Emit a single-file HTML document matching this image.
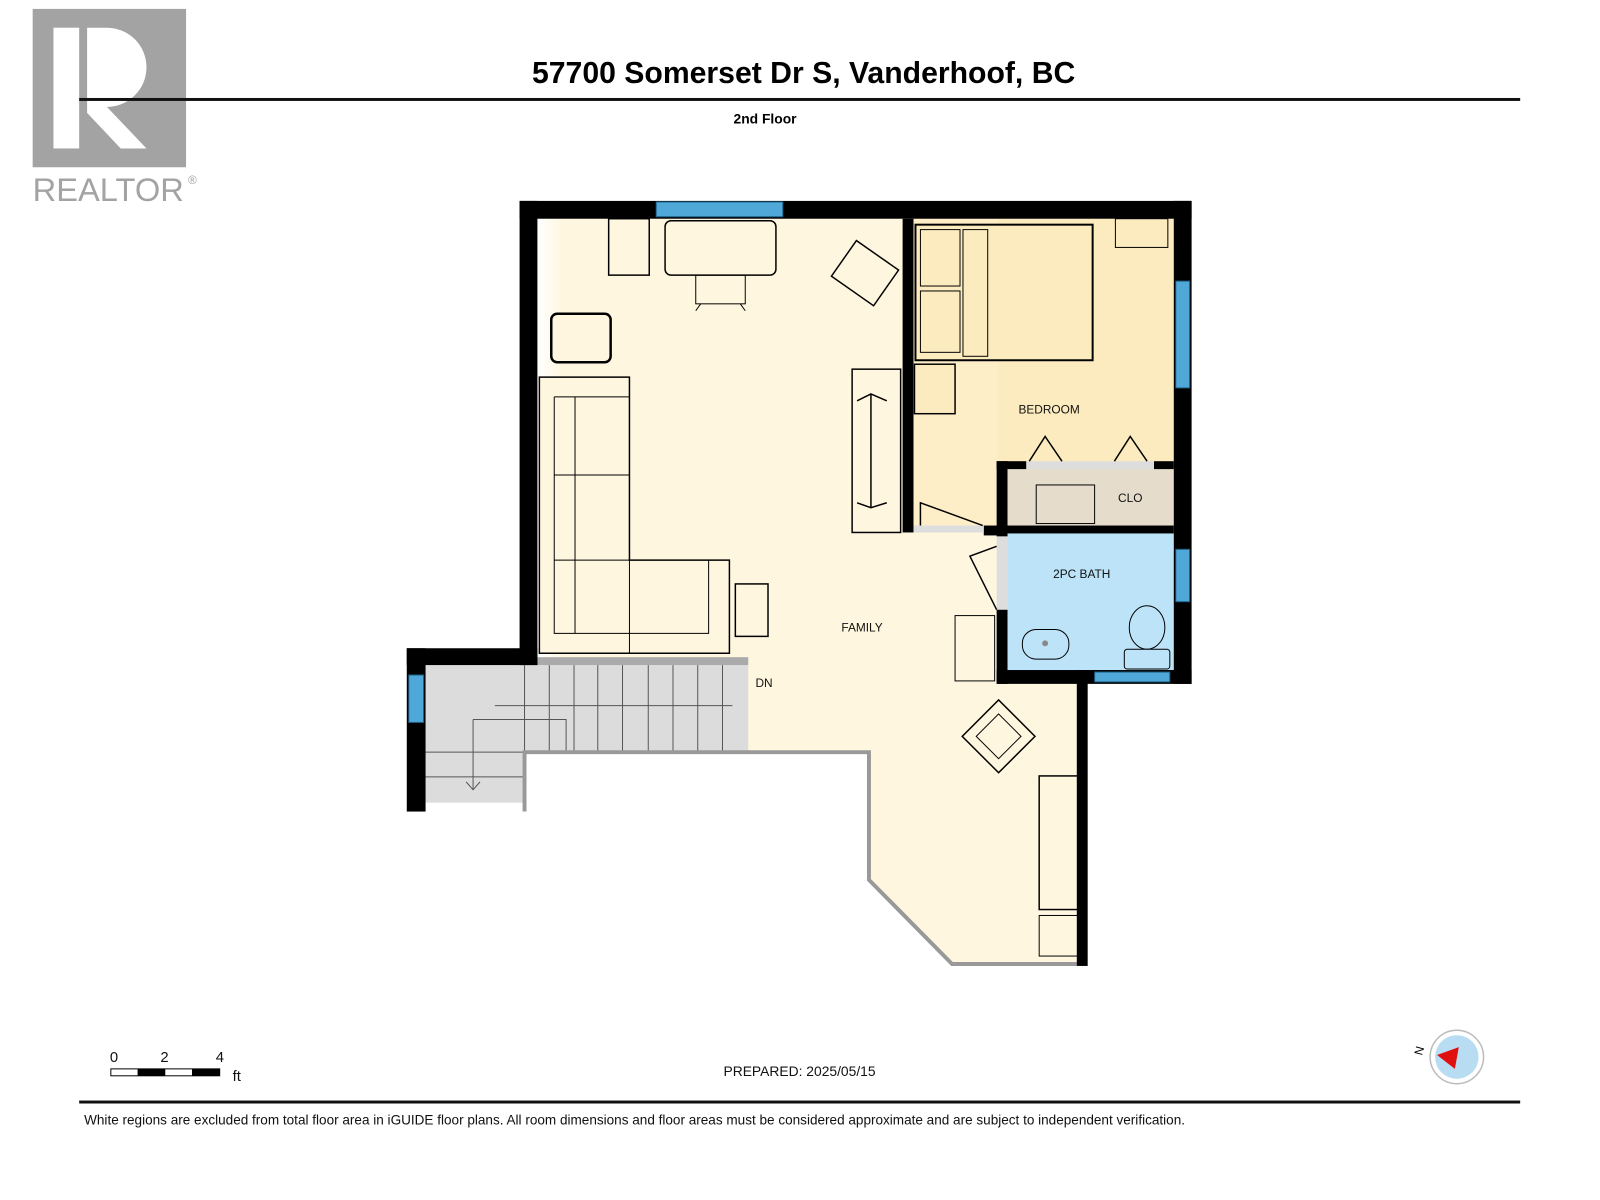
<!DOCTYPE html>
<html><head><meta charset="utf-8"><style>
html,body{margin:0;padding:0;background:#fff;}
svg{display:block;font-family:"Liberation Sans",Arial,sans-serif;}
</style></head><body>
<svg width="1600" height="1200" viewBox="0 0 1600 1200" xmlns="http://www.w3.org/2000/svg">
<defs>
<linearGradient id="lg" x1="0" x2="1"><stop offset="0" stop-color="#fff"/><stop offset="1" stop-color="#fef6df"/></linearGradient>
</defs>
<g transform="scale(0.9897)">
<!-- Realtor logo -->
<rect x="33" y="9" width="155" height="160" fill="#a3a3a3"/>
<rect x="54" y="28" width="26" height="122" fill="#fff"/>
<path d="M88 28 h20 a40 40 0 0 1 0 80 l40 42 h-26 l-34 -36 z" fill="#fff"/>
<text x="33" y="203" font-size="33" fill="#a3a3a3">REALTOR</text>
<text x="190" y="186" font-size="12" fill="#a3a3a3">®</text>
<!-- header -->
<text x="812" y="84" font-size="30.5" font-weight="bold" text-anchor="middle">57700 Somerset Dr S, Vanderhoof, BC</text>
<rect x="80" y="99" width="1456" height="3" fill="#111"/>
<text x="773" y="125" font-size="14" font-weight="bold" text-anchor="middle">2nd Floor</text>

<!-- floors -->
<path d="M543 221 H912 V538 H1007 V691 H1088 V976 H962 L878 889 V760 H530 V672 H543 Z" fill="#fef6df"/>
<rect x="543" y="221" width="26" height="451" fill="url(#lg)"/>
<rect x="923" y="221" width="263" height="317" fill="#fdebc0"/>
<rect x="923" y="221" width="85" height="317" fill="#fdeec8"/>
<rect x="1018" y="474" width="168" height="57" fill="#e6dccb"/>
<rect x="1018" y="538" width="168" height="139" fill="#bde3f8"/>
<rect x="430" y="672" width="326" height="88" fill="#dcdcdc"/>
<rect x="430" y="760" width="100" height="51" fill="#dcdcdc"/>
<rect x="543" y="664" width="213" height="8" fill="#aaa"/>
<g stroke="#555" stroke-width="1" fill="none">
<path d="M530 672V760 M555 672V760 M580 672V760 M604 672V760 M629 672V760 M655 672V760 M680 672V760 M705 672V760 M730 672V760"/>
<path d="M430 760H530 M430 785H530"/>
<path d="M500 713H740 M478 727H572V760"/>
<path d="M478 727V798 M471 790 L478 798 L485 790"/>
</g>
<path d="M530 820 V760 H878 V889 L962 974 H1088" fill="none" stroke="#999" stroke-width="4"/>
<!-- walls -->
<g fill="#000">
<rect x="525" y="203" width="679" height="18"/>
<rect x="525" y="203" width="18" height="469"/>
<rect x="411" y="655" width="132" height="17"/>
<rect x="411" y="655" width="19" height="165"/>
<rect x="912" y="221" width="11" height="317"/>
<rect x="1186" y="203" width="18" height="488"/>
<rect x="1007" y="466" width="11" height="76"/>
<rect x="1007" y="616" width="11" height="75"/>
<rect x="1007" y="466" width="30" height="8"/>
<rect x="1166" y="466" width="20" height="8"/>
<rect x="1007" y="531" width="179" height="8"/>
<rect x="994" y="531" width="24" height="10"/>
<rect x="1007" y="677" width="197" height="14"/>
<rect x="1088" y="677" width="11" height="299"/>
</g>
<g fill="#4fa8d8" stroke="#1a5a80" stroke-width="1">
<rect x="663" y="204" width="128" height="15"/>
<rect x="1188" y="284" width="14" height="108"/>
<rect x="1188" y="555" width="14" height="53"/>
<rect x="1106" y="679" width="76" height="10"/>
<rect x="413" y="682" width="15" height="48"/>
</g>
<!-- doors -->
<rect x="923" y="531" width="71" height="7" fill="#ddd"/>
<path d="M930 531 V508 L993 531" fill="none" stroke="#000" stroke-width="1.5"/>
<rect x="1007" y="542" width="11" height="74" fill="#ddd"/>
<path d="M1007 616 L980 562 L1007 552" fill="none" stroke="#000" stroke-width="1.5"/>
<rect x="1037" y="466" width="129" height="8" fill="#ddd"/>
<path d="M1040 466 L1056 441 L1073 466 M1126 466 L1142 441 L1159 466" fill="none" stroke="#000" stroke-width="1.5"/>
<!-- furniture -->
<g fill="#fef6df" stroke="#000" stroke-width="1.5">
<rect x="615" y="221" width="41" height="57" fill="none"/>
<rect x="672" y="223" width="112" height="55" rx="6"/>
<rect x="703" y="278" width="50" height="29" fill="none" stroke-width="1"/>
<path d="M708 307 L703 314 M748 307 L753 314" stroke-width="1"/>
<rect x="848" y="254" width="52" height="44" transform="rotate(35 874 276)"/>
<rect x="557" y="317" width="60" height="49" rx="6" stroke-width="2.5"/>
<path d="M545 381 H636 V566 H737 V660 H545 Z"/>
<path d="M560 401 H636 M560 401 V640 H716 V566 M581 401 V640 M560 480 H636 M560 566 H636 M636 566 V660" fill="none" stroke-width="1"/>
<rect x="743" y="590" width="33" height="53" fill="none"/>
<rect x="861" y="373" width="49" height="165"/>
<path d="M880 398 V513 M866 405 L880 398 L896 405 M866 508 L880 513 L896 508" fill="none" stroke-width="1.5"/>
<rect x="925" y="227" width="179" height="137" fill="#fdebc0" stroke-width="2"/>
<rect x="930" y="232" width="40" height="57" fill="#fdebc0" stroke-width="1"/>
<rect x="930" y="294" width="40" height="62" fill="#fdebc0" stroke-width="1"/>
<rect x="973" y="232" width="25" height="128" fill="#fdebc0" stroke-width="1"/>
<rect x="924" y="368" width="41" height="50" fill="#fdebc0"/>
<rect x="1127" y="221" width="53" height="29" fill="#fdebc0" stroke-width="1"/>
<rect x="1047" y="490" width="59" height="39" fill="#e6dccb" stroke-width="1"/>
<rect x="965" y="622" width="40" height="66" fill="none" stroke-width="1"/>
<rect x="983" y="718" width="52" height="52" transform="rotate(45 1009 744)"/>
<rect x="993" y="728" width="32" height="32" transform="rotate(45 1009 744)" fill="none" stroke-width="1"/>
<rect x="1050" y="784" width="39" height="135" fill="none"/>
<rect x="1050" y="925" width="39" height="41" fill="none" stroke-width="1"/>
<rect x="1033" y="636" width="47" height="30" rx="14" fill="#bde3f8" stroke-width="1"/>
<ellipse cx="1159" cy="634" rx="18" ry="22" fill="#bde3f8" stroke-width="1"/>
<rect x="1136" y="656" width="46" height="20" rx="3" fill="#bde3f8" stroke-width="1"/>
</g>
<circle cx="1056" cy="650" r="3" fill="#888"/>
<g font-size="12" fill="#111" text-anchor="middle">
<text x="1060" y="418">BEDROOM</text>
<text x="1142" y="507">CLO</text>
<text x="1093" y="584">2PC BATH</text>
<text x="871" y="638">FAMILY</text>
<text x="772" y="694">DN</text>
</g>
<!-- scale -->
<g font-size="15" fill="#111">
<text x="111" y="1073">0</text><text x="162" y="1073">2</text><text x="218" y="1073">4</text>
<text x="235" y="1092">ft</text>
</g>
<rect x="112" y="1080" width="110" height="7" fill="#fff" stroke="#000" stroke-width="1"/>
<rect x="139" y="1080" width="28" height="7" fill="#000"/>
<rect x="194" y="1080" width="28" height="7" fill="#000"/>
<text x="731" y="1087" font-size="14" fill="#111">PREPARED: 2025/05/15</text>
<circle cx="1472" cy="1068" r="27" fill="#fff" stroke="#bbb" stroke-width="1.5"/>
<circle cx="1472" cy="1068" r="22" fill="#b8dcf2"/>
<path d="M1452 1066 L1474 1058 L1470 1080 Z" fill="#e01010"/>
<text x="1430" y="1066" font-size="12" transform="rotate(-75 1434 1062)">N</text>
<rect x="80" y="1112" width="1456" height="3" fill="#111"/>
<text x="85" y="1136" font-size="13.7" fill="#111">White regions are excluded from total floor area in iGUIDE floor plans. All room dimensions and floor areas must be considered approximate and are subject to independent verification.</text>
</g>
</svg>
</body></html>
